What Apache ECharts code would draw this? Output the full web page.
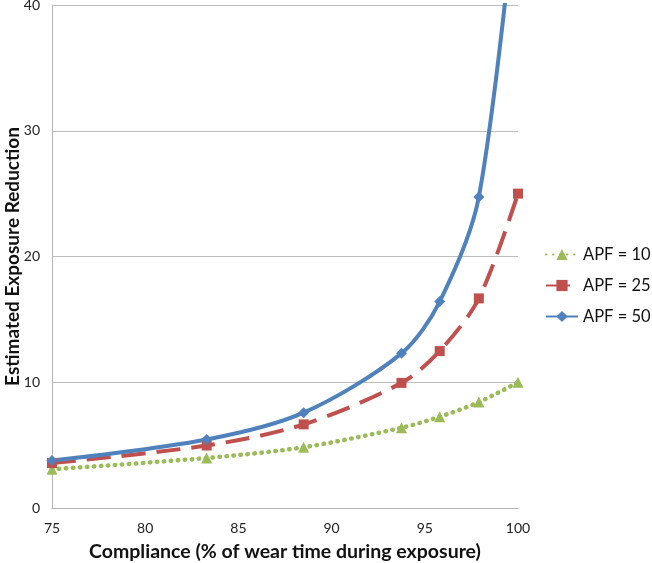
<!DOCTYPE html>
<html>
<head>
<meta charset="utf-8">
<script src="https://cdn.jsdelivr.net/npm/echarts@6/dist/echarts.min.js"></script>
<style>
  html, body { margin: 0; padding: 0; background: #fff; }
  #chart { width: 652px; height: 563px; }
</style>
</head>
<body>
<div id="chart"></div>
<script>
// compliance (% of wear time) at each plotted point
var compliance = [75, 83.3, 88.5, 93.75, 95.8, 97.9, 100];
// estimated exposure reduction per APF
var apf10 = [3.08, 3.98, 4.83, 6.38, 7.26, 8.42, 10];
var apf25 = [3.57, 4.97, 6.65, 9.95, 12.48, 16.67, 25];
var apf50 = [3.77, 5.45, 7.58, 12.3, 16.42, 24.74, 50];
var seriesNames = ['APF = 10', 'APF = 25', 'APF = 50'];

var font = 'Lato, "Liberation Sans", sans-serif';
function pairs(ys) {
  return compliance.map(function (x, i) { return [x, ys[i]]; });
}

var chart = echarts.init(document.getElementById('chart'));
chart.setOption({
  animation: false,
  textStyle: { fontFamily: font },
  grid: { left: 52, right: 134, top: 5, bottom: 55, containLabel: false, outerBoundsMode: 'none' },
  legend: {
    orient: 'vertical',
    left: 545,
    top: 246,
    padding: 0,
    itemWidth: 32,
    itemHeight: 14,
    itemGap: 14,
    textStyle: { fontSize: 16.5, color: '#111', fontFamily: font },
    data: seriesNames
  },
  xAxis: {
    type: 'value',
    min: 75,
    max: 100,
    interval: 5,
    name: 'Compliance (% of wear time during exposure)',
    nameLocation: 'middle',
    nameGap: 34,
    nameMoveOverlap: false,
    nameTextStyle: { fontSize: 19.5, fontWeight: 'bold', color: '#111', fontFamily: font },
    axisLine: { lineStyle: { color: '#b5b5b5' } },
    axisTick: { show: false },
    axisLabel: { fontSize: 14, color: '#222', margin: 13 },
    splitLine: { show: false }
  },
  yAxis: {
    type: 'value',
    min: 0,
    max: 40,
    interval: 10,
    name: 'Estimated Exposure Reduction',
    nameLocation: 'middle',
    nameGap: 30,
    nameMoveOverlap: false,
    nameTextStyle: { fontSize: 19, fontWeight: 'bold', color: '#111', fontFamily: font },
    axisLine: { show: true, lineStyle: { color: '#b5b5b5' } },
    axisTick: { show: false },
    axisLabel: { fontSize: 14, color: '#222', margin: 12 },
    splitLine: { lineStyle: { color: '#bdbdbd' } }
  },
  series: [
    {
      name: seriesNames[0],
      type: 'line',
      data: pairs(apf10),
      smooth: 0.3,
      symbol: 'triangle',
      symbolSize: 11,
      itemStyle: { color: '#9bbb59' },
      lineStyle: { color: '#9bbb59', width: 4.5, type: [0.5, 6.5], cap: 'round' }
    },
    {
      name: seriesNames[1],
      type: 'line',
      data: pairs(apf25),
      smooth: 0.3,
      symbol: 'rect',
      symbolSize: 10,
      itemStyle: { color: '#c0504d' },
      lineStyle: { color: '#c0504d', width: 4, type: [24, 11] }
    },
    {
      name: seriesNames[2],
      type: 'line',
      data: pairs(apf50),
      smooth: 0.3,
      symbol: 'diamond',
      symbolSize: 11,
      itemStyle: { color: '#4f81bd' },
      lineStyle: { color: '#4f81bd', width: 4 }
    }
  ]
});
</script>
</body>
</html>
